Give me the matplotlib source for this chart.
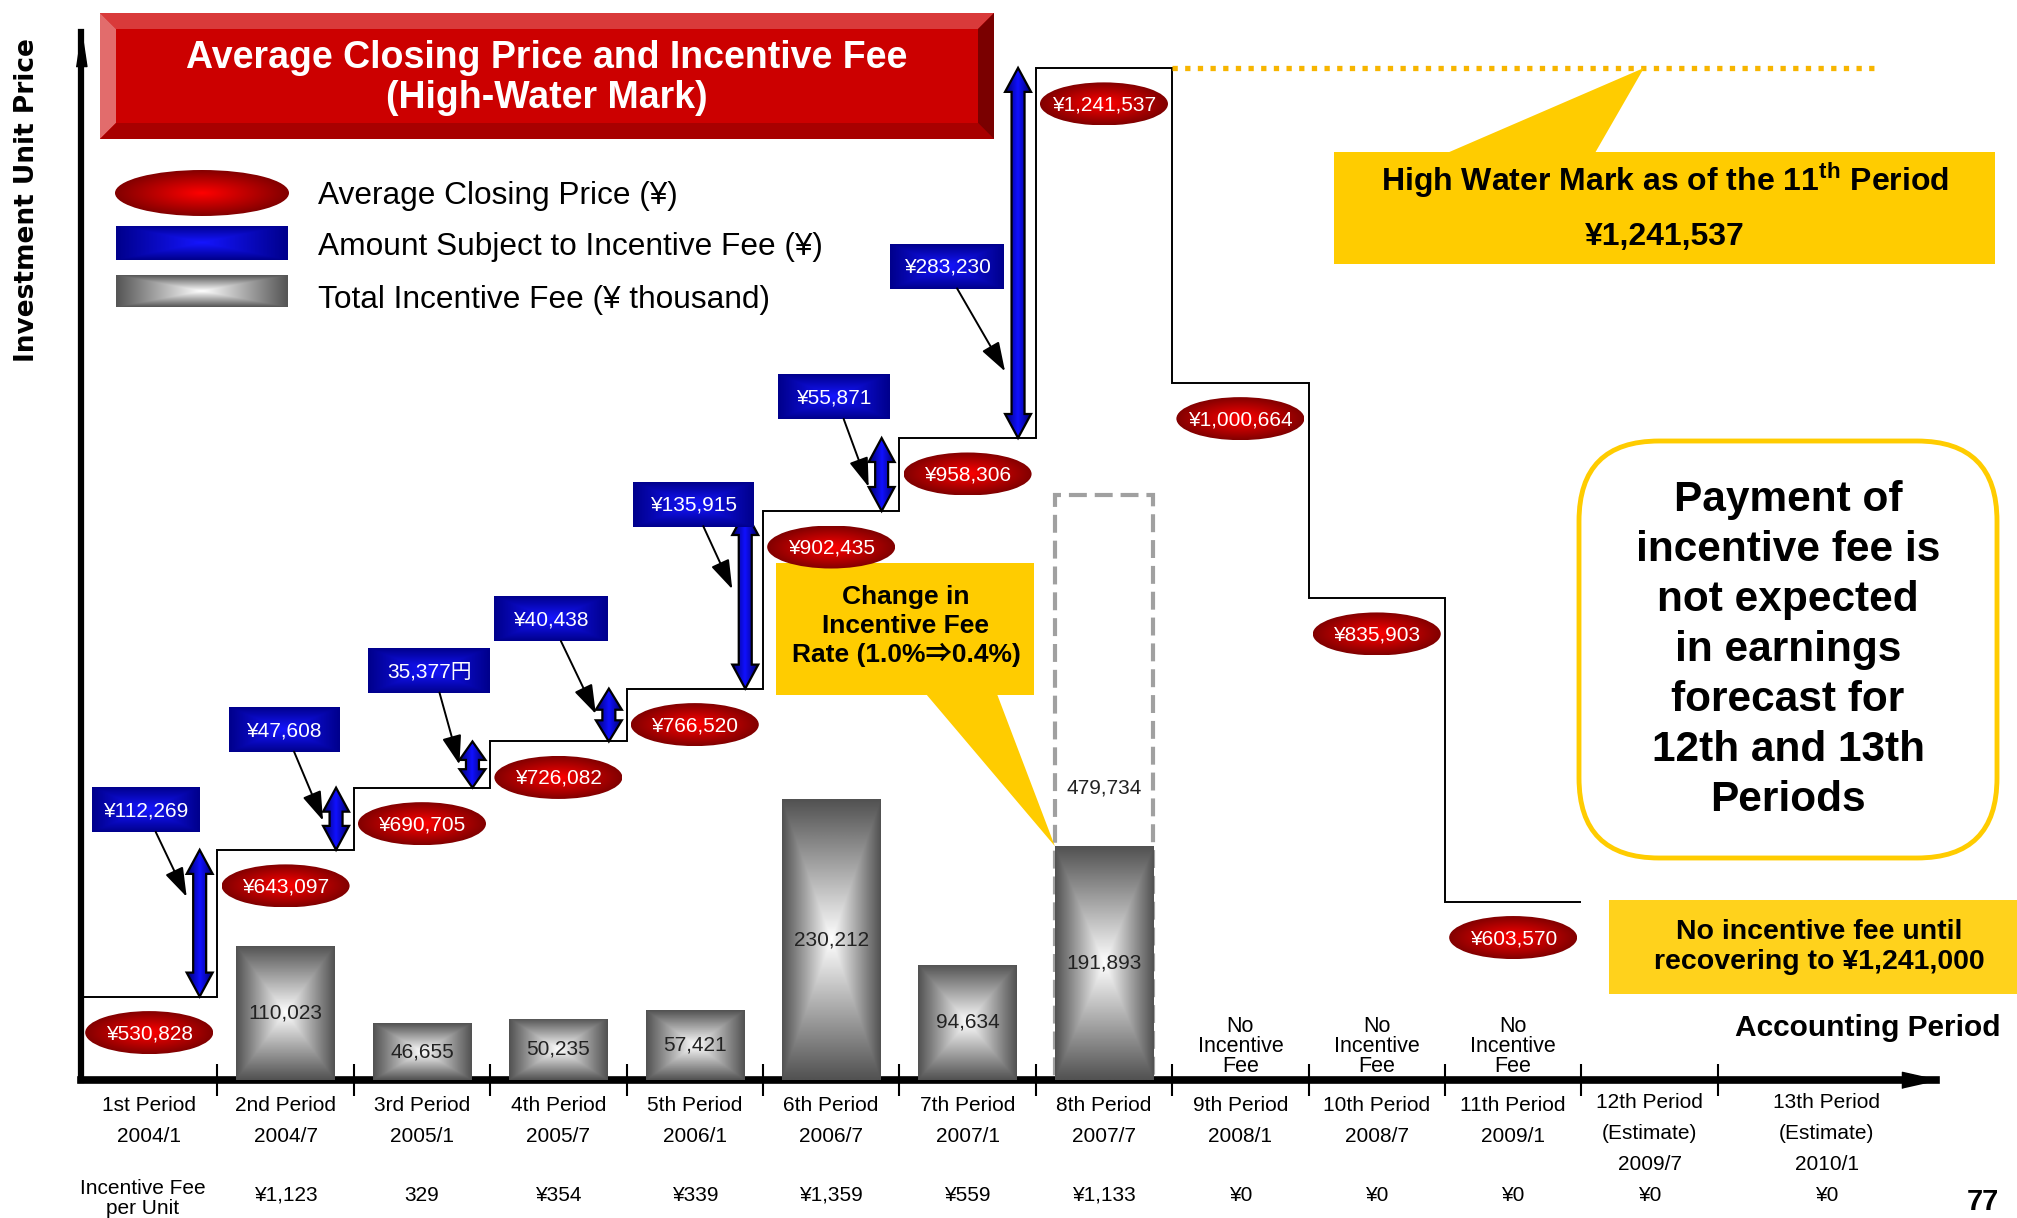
import numpy as np
import matplotlib
matplotlib.use('Agg')
import matplotlib.pyplot as plt
from matplotlib.colors import LinearSegmentedColormap
from matplotlib.patches import Rectangle, Ellipse, Polygon, FancyBboxPatch

plt.rcParams['font.family'] = ['Liberation Sans', 'Noto Sans CJK JP', 'DejaVu Sans']
plt.rcParams['mathtext.fontset'] = 'custom'
plt.rcParams['mathtext.rm'] = 'Liberation Sans'
plt.rcParams['mathtext.bf'] = 'Liberation Sans:bold'

# ---- data ----
period_names = ['1st Period', '2nd Period', '3rd Period', '4th Period', '5th Period',
                '6th Period', '7th Period', '8th Period', '9th Period', '10th Period',
                '11th Period', '12th Period', '13th Period']
period_dates = ['2004/1', '2004/7', '2005/1', '2005/7', '2006/1', '2006/7', '2007/1',
                '2007/7', '2008/1', '2008/7', '2009/1', '2009/7', '2010/1']
estimate_periods = [12, 13]
fee_per_unit = ['', '¥1,123', '329', '¥354', '¥339', '¥1,359', '¥559', '¥1,133',
                '¥0', '¥0', '¥0', '¥0', '¥0']

# average closing price, periods 1-11
closing_price = [530828, 643097, 690705, 726082, 766520, 902435, 958306,
                 1241537, 1000664, 835903, 603570]
# amount subject to incentive fee, periods 2-8
subject_amount = [112269, 47608, 35377, 40438, 135915, 55871, 283230]
subject_labels = ['¥112,269', '¥47,608', '35,377円', '¥40,438', '¥135,915',
                  '¥55,871', '¥283,230']
# total incentive fee (¥ thousand), periods 2-8
fee_periods = [2, 3, 4, 5, 6, 7, 8]
fee_total = [110023, 46655, 50235, 57421, 230212, 94634, 191893]
fee_old_rate = 479734          # 8th period at the former 1.0% rate
no_fee_periods = [9, 10, 11]
high_water_mark = 1241537

# ---- layout ----
W, H = 2017, 1218
fig = plt.figure(figsize=(W / 100, H / 100), dpi=100)
ax = fig.add_axes([81 / W, (H - 1080) / H, (1936 - 81) / W, (1080 - 32) / H])
ax.set_xlim(0.5, 14.1)
ax.set_ylim(467000, 1269000)
ax2 = ax.twinx()
ax2.set_ylim(0, 860000)
ax2.axis('off')

for s in ['top', 'right']:
    ax.spines[s].set_visible(False)
ax.spines['left'].set_linewidth(4.5)
ax.spines['bottom'].set_linewidth(5.5)
ax.set_yticks([])
ax.set_xticks(np.arange(1.5, 13))
ax.tick_params(axis='x', direction='inout', length=23, width=1.5, labelbottom=False)
head_up = [(-0.3, -1), (0.3, -1), (0, 1)]
head_right = [(-1, -0.45), (-1, 0.45), (1, 0)]
ax.plot([0], [1 - 16 / 1048], marker=head_up, ms=26, color='black',
        transform=ax.transAxes, clip_on=False)
ax.plot([1 - 16 / 1855], [0], marker=head_right, ms=26, color='black',
        transform=ax.transAxes, clip_on=False)

ax.set_ylabel('Investment Unit Price', fontsize=19, fontweight='bold', family='DejaVu Sans')
ax.yaxis.set_label_coords(-0.022, 0.84)
ax.set_xlabel('Accounting Period', fontsize=21.5, fontweight='bold')
ax.xaxis.set_label_coords(0.963, 0.05)
ax.xaxis.label.set_va('center')


def cmap2(c_in, c_out):
    return LinearSegmentedColormap.from_list('g', [c_in, c_out])


def grad(kind, n=160):
    u, v = np.meshgrid(np.linspace(-1, 1, n), np.linspace(-1, 1, n))
    if kind == 'rect':
        return np.maximum(abs(u), abs(v))
    if kind == 'radial':
        return np.clip(np.hypot(u, v) / 1.05, 0, 1)
    return abs(u)


def shade(a, patch, extent, kind, c_in, c_out, z):
    a.add_patch(patch)
    im = a.imshow(grad(kind), cmap=cmap2(c_in, c_out), vmin=0, vmax=1, extent=extent,
                  aspect='auto', interpolation='bilinear', zorder=z)
    im.set_clip_path(patch)
    return im


# step line of average closing price
ax.stairs(closing_price, edges=np.arange(0.5, len(closing_price) + 1), baseline=None,
          color='black', lw=1.4, zorder=2)
# high water mark
ax.hlines(high_water_mark, len(closing_price) - 2.5, 13.66, colors='#F7B500', lw=3.8,
          linestyles=(0, (1, 1.4)), zorder=2)

# blue double arrows
sx = ax.transData.transform((1, 0))[0] - ax.transData.transform((0, 0))[0]
sy = ax.transData.transform((0, 1))[1] - ax.transData.transform((0, 0))[1]
arrow_x = []
for k, amt in enumerate(subject_amount):
    x = k + 1 + 0.37
    y0 = closing_price[k]
    y1 = y0 + amt
    hw, sw = 13 / sx, 6.5 / sx
    hl = min(24, 0.4 * amt * sy) / sy
    verts = [(x, y0), (x + hw, y0 + hl), (x + sw, y0 + hl), (x + sw, y1 - hl), (x + hw, y1 - hl),
             (x, y1), (x - hw, y1 - hl), (x - sw, y1 - hl), (x - sw, y0 + hl), (x - hw, y0 + hl)]
    poly = Polygon(verts, closed=True, facecolor='none', edgecolor='none', zorder=4)
    shade(ax, poly, (x - hw, x + hw, y0, y1), 'horiz', '#1010FF', '#00006A', 3.5)
    ax.add_patch(Polygon(verts, closed=True, facecolor='none', edgecolor='black', lw=1.6, zorder=4))
    arrow_x.append(x)

# incentive fee bars
bw = 0.72
ax2.bar(fee_periods[-1], fee_old_rate, width=bw, fill=False, edgecolor='#A0A0A0', lw=3,
        linestyle=(0, (4.3, 1.9)), zorder=2)
ax2.text(fee_periods[-1], fee_old_rate / 2, f'{fee_old_rate:,}', ha='center', va='center',
         fontsize=15, color='#222222', zorder=6)
bars = ax2.bar(fee_periods, fee_total, width=bw, color='none', zorder=3)
for b, v in zip(bars, fee_total):
    x0, w = b.get_x(), b.get_width()
    shade(ax2, Rectangle((x0, 0), w, v, fc='none', ec='none'), (x0, x0 + w, 0, v),
          'rect', '#FFFFFF', '#525252', 3)
    ax2.text(x0 + w / 2, v / 2, f'{v:,}', ha='center', va='center', fontsize=15,
             color='#222222', zorder=6)

for p in no_fee_periods:
    ax.text(p, 0.032, 'No\nIncentive\nFee', transform=ax.get_xaxis_transform(),
            ha='center', va='center', fontsize=15.5, linespacing=0.95)

# period labels under the axis
xt = ax.get_xaxis_transform()
for i, (name, date) in enumerate(zip(period_names, period_dates)):
    p = i + 1
    x = p + (0.3 if p == 13 else 0)
    lines = [name, '(Estimate)', date] if p in estimate_periods else [name, date]
    top = -0.021 if p in estimate_periods else -0.024
    for j, t in enumerate(lines):
        ax.text(x, top - j * 0.0296, t, transform=xt, ha='center', va='center', fontsize=15)
    if fee_per_unit[i]:
        ax.text(x, -0.11, fee_per_unit[i], transform=xt, ha='center', va='center', fontsize=15)
ax.text(0.95, -0.113, 'Incentive Fee\nper Unit', transform=xt, ha='center', va='center',
        fontsize=15, linespacing=1.1)

# ---- overlay in pixel coordinates ----
ov = fig.add_axes([0, 0, 1, 1])
ov.set_xlim(0, W)
ov.set_ylim(H, 0)
ov.axis('off')


def to_px(a, x, y):
    dx, dy = a.transData.transform((x, y))
    return dx, H - dy


def red_oval(cx, cy, w, h, text=None, fs=15):
    shade(ov, Ellipse((cx, cy), w, h, fc='none', ec='none'),
          (cx - w / 2, cx + w / 2, cy + h / 2, cy - h / 2), 'radial', '#FF0000', '#7C0000', 5)
    if text:
        ov.text(cx, cy + 1, text, ha='center', va='center', color='white', fontsize=fs, zorder=6)


def blue_box(cx, cy, w, h, text=None):
    shade(ov, Rectangle((cx - w / 2, cy - h / 2), w, h, fc='none', ec='none'),
          (cx - w / 2, cx + w / 2, cy + h / 2, cy - h / 2), 'rect', '#1515FF', '#00008C', 5)
    if text:
        ov.text(cx, cy + 1, text, ha='center', va='center', color='white', fontsize=15, zorder=6)


# title banner
L, T, R, B, bv = 100, 13, 994, 139, 16
ov.add_patch(Rectangle((L, T), R - L, B - T, fc='#CC0000', ec='none', zorder=3))
ov.add_patch(Polygon([(L, T), (R, T), (R - bv, T + bv), (L + bv, T + bv)], fc='#D93A3A', ec='none', zorder=3))
ov.add_patch(Polygon([(L, T), (L + bv, T + bv), (L + bv, B - bv), (L, B)], fc='#E26C6C', ec='none', zorder=3))
ov.add_patch(Polygon([(L, B), (L + bv, B - bv), (R - bv, B - bv), (R, B)], fc='#A80000', ec='none', zorder=3))
ov.add_patch(Polygon([(R, T), (R, B), (R - bv, B - bv), (R - bv, T + bv)], fc='#7A0000', ec='none', zorder=3))
ov.text((L + R) / 2, 78, 'Average Closing Price and Incentive Fee\n(High-Water Mark)',
        ha='center', va='center', color='white', fontsize=27, fontweight='bold',
        linespacing=1.15, zorder=4)

# legend
red_oval(202, 193, 174, 46)
blue_box(202, 243, 172, 35)
shade(ov, Rectangle((116, 275), 172, 32, fc='none', ec='none'), (116, 288, 307, 275),
      'rect', '#FFFFFF', '#555555', 5)
for y, t in zip([196, 247, 300], ['Average Closing Price (¥)',
                                  'Amount Subject to Incentive Fee (¥)',
                                  'Total Incentive Fee (¥ thousand)']):
    ov.text(318, y, t, ha='left', va='center', fontsize=22.8)

# red price ovals
for i, p in enumerate(closing_price):
    cx, cy = to_px(ax, i + 1, p)
    red_oval(cx, cy + 36, 128, 43, f'¥{p:,}')

# blue amount boxes with pointers
pointer_frac = [0.68, 0.47, 0.5, 0.52, 0.56, 0.33, 0.18]
box_offset = [(-41, -87), (-39, -91), (-30, -94), (-45, -95), (-39, -85), (-35, -90), (-58, -105)]
box_width = [108, 111, 122, 114, 121, 112, 114]
for k, amt in enumerate(subject_amount):
    tx, ty = to_px(ax, arrow_x[k], closing_price[k] + amt * pointer_frac[k])
    tx -= 13
    bx, by = tx + box_offset[k][0], ty + box_offset[k][1]
    blue_box(bx, by, box_width[k], 45, subject_labels[k])
    ov.annotate('', xy=(tx, ty), xytext=(bx + 10, by + 22),
                arrowprops=dict(arrowstyle='-|>,head_length=0.9,head_width=0.3', lw=1.4,
                                color='black', shrinkA=0, shrinkB=0, mutation_scale=20),
                zorder=6)

# high water mark callout
hx, hy = to_px(ax, 11.5, high_water_mark)
ov.add_patch(Rectangle((1334, 152), 661, 112, fc='#FFCC00', ec='none', zorder=3))
ov.add_patch(Polygon([(1447, 153), (1595, 153), (1644, hy)], fc='#FFCC00', ec='none', zorder=3))
ov.text(1665, 180, r'High Water Mark as of the 11$^{\mathbf{th}}$ Period', ha='center',
        va='center', fontsize=23, fontweight='bold', zorder=4)
ov.text(1665, 237, f'¥{high_water_mark:,}', ha='center', va='center', fontsize=23,
        fontweight='bold', zorder=4)

# change in fee rate callout
tip = to_px(ax2, fee_periods[-1] - bw / 2, fee_total[-1])
ov.add_patch(Rectangle((776, 563), 258, 132, fc='#FFCC00', ec='none', zorder=3))
ov.add_patch(Polygon([(926, 694), (997, 694), tip], fc='#FFCC00', ec='none', zorder=3))
ov.text(906, 626, 'Change in\nIncentive Fee\nRate (1.0%⇒0.4%)', ha='center', va='center',
        fontsize=19, fontweight='bold', linespacing=1.25, zorder=4)

# rounded note
ov.add_patch(FancyBboxPatch((1579, 441), 418, 417, boxstyle='round,pad=0,rounding_size=80',
                            fc='white', ec='#FFCC00', lw=3.5, zorder=3))
ov.text(1788, 650, 'Payment of\nincentive fee is\nnot expected\nin earnings\nforecast for\n'
        '12th and 13th\nPeriods', ha='center', va='center', fontsize=30.5, fontweight='bold',
        linespacing=1.32, zorder=4)

# no fee note
ov.add_patch(Rectangle((1609, 900), 408, 94, fc='#FFD21C', ec='none', zorder=3))
ov.text(1819, 947, 'No incentive fee until\nrecovering to ¥1,241,000', ha='center',
        va='center', fontsize=20.5, fontweight='bold', linespacing=1.2, zorder=4)

# page number
ov.text(1983, 1216, '77', ha='center', va='bottom', fontsize=21, fontweight='bold')

fig.savefig('out.png', dpi=100)
